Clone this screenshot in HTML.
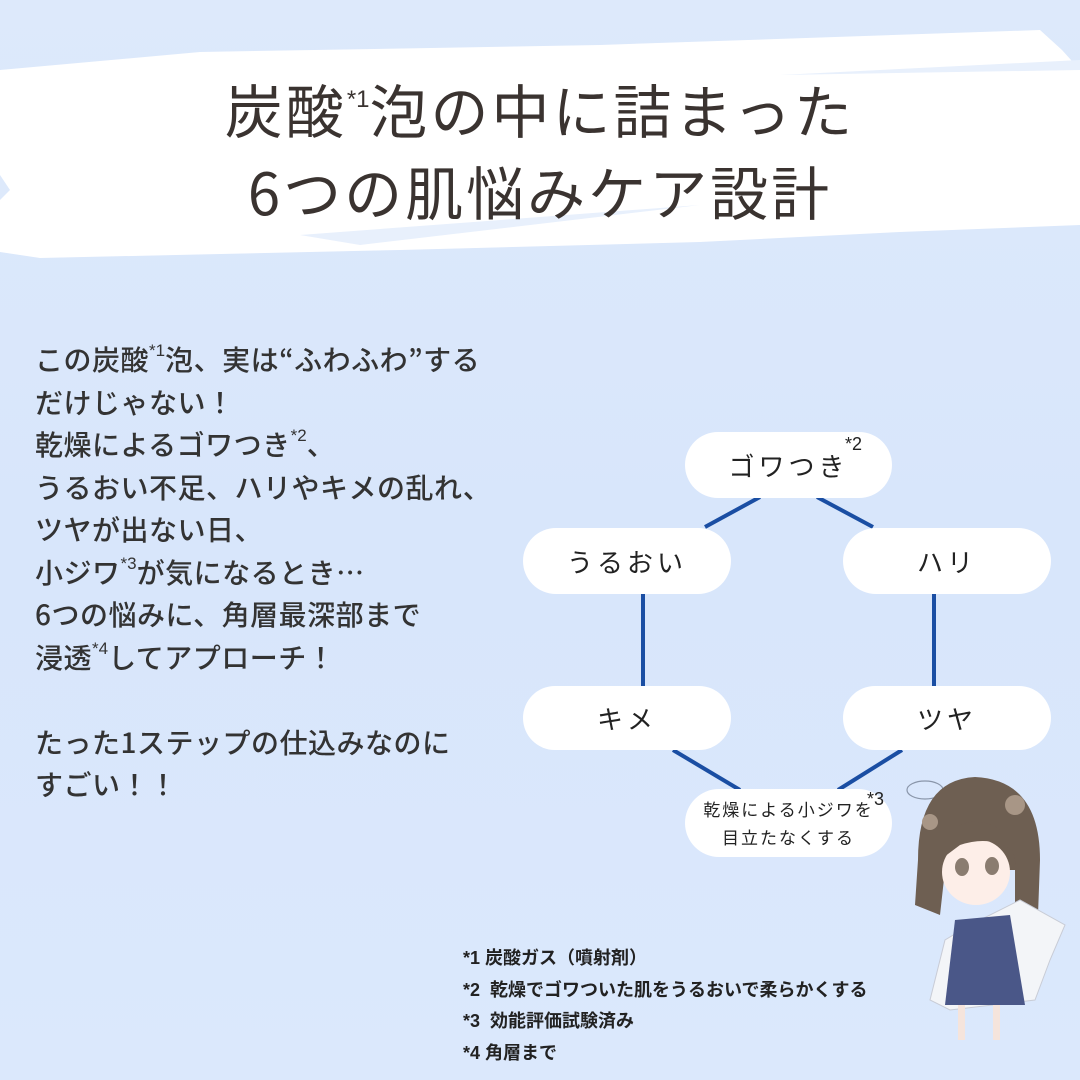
<!DOCTYPE html>
<html><head><meta charset="utf-8"><style>
html,body{margin:0;padding:0}
body{width:1080px;height:1080px;position:relative;overflow:hidden;background:linear-gradient(180deg,#dde9fb 0%,#d8e6fb 50%,#dbe8fc 100%);font-family:"Liberation Sans","Noto Sans CJK JP",sans-serif}
.t{position:absolute;white-space:nowrap}
.title{left:0;width:1080px;text-align:center;font-family:"Noto Sans CJK JP",sans-serif;font-weight:400;font-size:58px;color:#3a3330;letter-spacing:3px}
.body{left:35px;font-family:"Noto Sans CJK JP",sans-serif;font-weight:500;font-size:28px;letter-spacing:0.5px;color:#333;line-height:42.5px;top:338px}
.s{display:inline-block;font-size:17px;font-weight:normal;transform:translateY(-14px);line-height:0;letter-spacing:0;font-family:"Liberation Sans",sans-serif}
.node{position:absolute;background:#fff;border-radius:34px;display:flex;align-items:center;justify-content:center;font-family:"Noto Sans CJK JP",sans-serif;font-weight:400;font-size:26px;color:#222;letter-spacing:4px}
.fn{left:463px;top:943px;font-size:18px;font-weight:bold;color:#222;line-height:31.5px}
</style></head><body>
<svg width="1080" height="1080" style="position:absolute;left:0;top:0">
<path d="M0 70 L200 52 L600 45 L1040 30 L1062 50 L1080 70 L1080 225 L900 232 L700 242 L400 250 L40 258 L0 252 Z" fill="#fff"/>
<path d="M0 175 L10 190 L0 200 Z" fill="#dde9fb"/>
<path d="M300 235 L700 205 L360 245 Z" fill="#e8f0fc"/>
<path d="M780 75 L1080 60 L1080 70 Z" fill="#e8f0fc"/>
<g stroke="#1a4ea3" stroke-width="4" fill="none">
<line x1="705" y1="527" x2="760" y2="497"/>
<line x1="817" y1="497" x2="873" y2="527"/>
<line x1="643" y1="594" x2="643" y2="686"/>
<line x1="934" y1="594" x2="934" y2="686"/>
<line x1="673" y1="750" x2="740" y2="790"/>
<line x1="902" y1="750" x2="838" y2="790"/>
</g>
<ellipse cx="925" cy="790" rx="18" ry="9" fill="none" stroke="#8a96aa" stroke-width="1.2"/>
<path d="M918 860 Q918 780 975 777 Q1040 780 1040 860 L1038 915 L1015 920 L1015 870 L945 870 L940 915 L915 905 Z" fill="#6e5f52"/>
<path d="M970 925 L945 940 L930 1000 L950 1010 L1035 1000 L1050 960 L1065 925 L1020 900 Z" fill="#f3f5f8" stroke="#c8ccd6"/>
<path d="M955 920 L1010 915 L1025 1005 L945 1005 Z" fill="#4a5788"/>
<rect x="958" y="1005" width="7" height="35" fill="#f5e4dc"/><rect x="993" y="1005" width="7" height="35" fill="#f5e4dc"/>
<ellipse cx="976" cy="872" rx="34" ry="33" fill="#fdeee8"/>
<path d="M940 860 Q950 820 976 822 Q1010 822 1016 865 L1012 850 Q990 835 960 845 Z" fill="#6e5f52"/>
<ellipse cx="962" cy="867" rx="7" ry="9" fill="#8a7c70"/><ellipse cx="992" cy="866" rx="7" ry="9" fill="#8a7c70"/>
<circle cx="930" cy="822" r="8" fill="#a89686"/><circle cx="1015" cy="805" r="10" fill="#a89686"/>
</svg>
<div class="t title" style="top:66px">炭酸<span class="s" style="font-size:24px;transform:translateY(-26px)">*1</span>泡の中に詰まった</div>
<div class="t title" style="top:148px">6つの肌悩みケア設計</div>
<div class="t body">この炭酸<span class="s">*1</span>泡、実は“ふわふわ”する<br>だけじゃない！<br>乾燥によるゴワつき<span class="s">*2</span>、<br>うるおい不足、ハリやキメの乱れ、<br>ツヤが出ない日、<br>小ジワ<span class="s">*3</span>が気になるとき…<br>6つの悩みに、角層最深部まで<br>浸透<span class="s">*4</span>してアプローチ！<br><br>たった1ステップの仕込みなのに<br>すごい！！</div>
<div class="node" style="left:685px;top:432px;width:207px;height:66px">ゴワつき<span style="position:absolute;left:160px;top:2px;font-family:'Liberation Sans';font-size:18px;letter-spacing:0">*2</span></div>
<div class="node" style="left:523px;top:528px;width:208px;height:66px">うるおい</div>
<div class="node" style="left:843px;top:528px;width:208px;height:66px">ハリ</div>
<div class="node" style="left:523px;top:686px;width:208px;height:64px">キメ</div>
<div class="node" style="left:843px;top:686px;width:208px;height:64px">ツヤ</div>
<div class="node" style="left:685px;top:789px;width:207px;height:68px;font-size:17px;line-height:28px;text-align:center;letter-spacing:2px">乾燥による小ジワを<br>目立たなくする<span style="position:absolute;left:182px;top:-4px;font-family:'Liberation Sans';font-size:18px;letter-spacing:0">*3</span></div>
<div class="t fn">*1 炭酸ガス（噴射剤）<br>*2&nbsp; 乾燥でゴワついた肌をうるおいで柔らかくする<br>*3&nbsp; 効能評価試験済み<br>*4 角層まで</div>
</body></html>
